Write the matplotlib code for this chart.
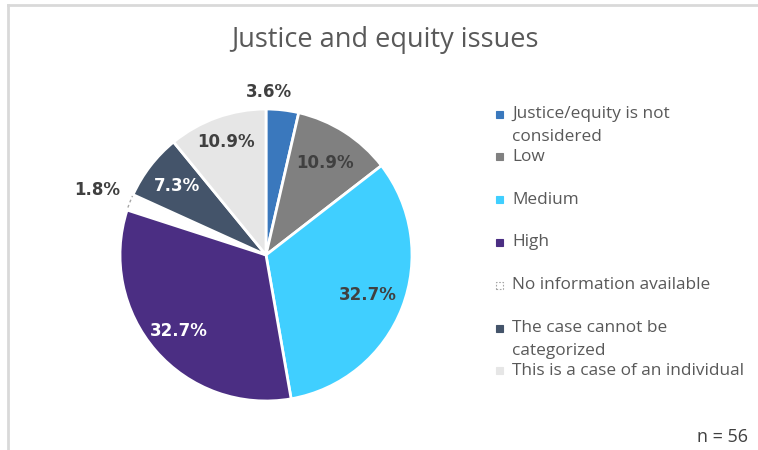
import matplotlib.pyplot as plt
import numpy as np
from matplotlib.patches import Rectangle
from matplotlib.lines import Line2D

plt.rcParams.update({'font.family': ['Open Sans', 'DejaVu Sans']})

# data
categories = [
    "Justice/equity is not\nconsidered",
    "Low",
    "Medium",
    "High",
    "No information available",
    "The case cannot be\ncategorized",
    "This is a case of an individual",
]
shares = [3.6, 10.9, 32.7, 32.7, 1.8, 7.3, 10.9]
sample_size = 56

colors = ["#3a78bd", "#808080", "#40cfff", "#4b2e83", "#ffffff", "#44546a", "#e6e6e6"]
label_colors = ["#404040", "#404040", "#404040", "#ffffff", "#404040", "#ffffff", "#404040"]
label_dist = [1.12, 0.75, 0.75, 0.79, 1.24, 0.77, 0.82]
label_shift = [5.5, 0, 0, 0, 0, 0, 0]  # degrees, nudges outside label

W, H = 758, 450
fig = plt.figure(figsize=(W / 100, H / 100), dpi=100)

# frame like the exported chart area
fig.add_artist(Line2D([8 / W, 1], [1 - 5 / H, 1 - 5 / H], color="#d9d9d9", lw=2))
fig.add_artist(Line2D([8 / W, 8 / W], [0, 1 - 5 / H], color="#d9d9d9", lw=2))

cx, cy, r = 266, 255, 146
ax = fig.add_axes([(cx - r) / W, (H - cy - r) / H, 2 * r / W, 2 * r / H])

wedges, _ = ax.pie(shares, colors=colors, startangle=90, counterclock=False,
                   wedgeprops=dict(edgecolor="white", linewidth=2))
# "no information" slice has a dashed outline
wedges[4].set_edgecolor("#a6a6a6")
wedges[4].set_linestyle((0, (2, 2)))
wedges[4].set_linewidth(1)
wedges[4].set_zorder(0.5)
ax.set_xlim(-1, 1)
ax.set_ylim(-1, 1)

for w, val, col, d, sh in zip(wedges, shares, label_colors, label_dist, label_shift):
    ang = np.deg2rad((w.theta1 + w.theta2) / 2 + sh)
    ax.text(d * np.cos(ang), d * np.sin(ang), f"{val:.1f}%", ha="center", va="center",
            fontsize=12, fontweight="bold", color=col, family="DejaVu Sans", clip_on=False)

fig.text(385 / W, 1 - 40 / H, "Justice and equity issues", ha="center", va="center",
         fontsize=19.5, color="#595959")

# legend, Excel style
for i, (lab, col) in enumerate(zip(categories, colors)):
    y = 114 + 42.8 * i
    dashed = col == "#ffffff"
    fig.add_artist(Rectangle((495.5 / W, 1 - (y + 3.5) / H), 7 / W, 7 / H,
                             facecolor=col, edgecolor="#a6a6a6" if dashed else col, lw=0.8,
                             linestyle=(0, (1.5, 1.5)) if dashed else "-"))
    for k, line in enumerate(lab.split("\n")):
        fig.text(512 / W, 1 - (y + 23 * k) / H, line, ha="left", va="center",
                 fontsize=12.4, color="#595959")

fig.text(748 / W, 1 - 437 / H, f"n = {sample_size}", ha="right", va="center",
         fontsize=13, color="#404040")

fig.savefig("out.png", dpi=100)
